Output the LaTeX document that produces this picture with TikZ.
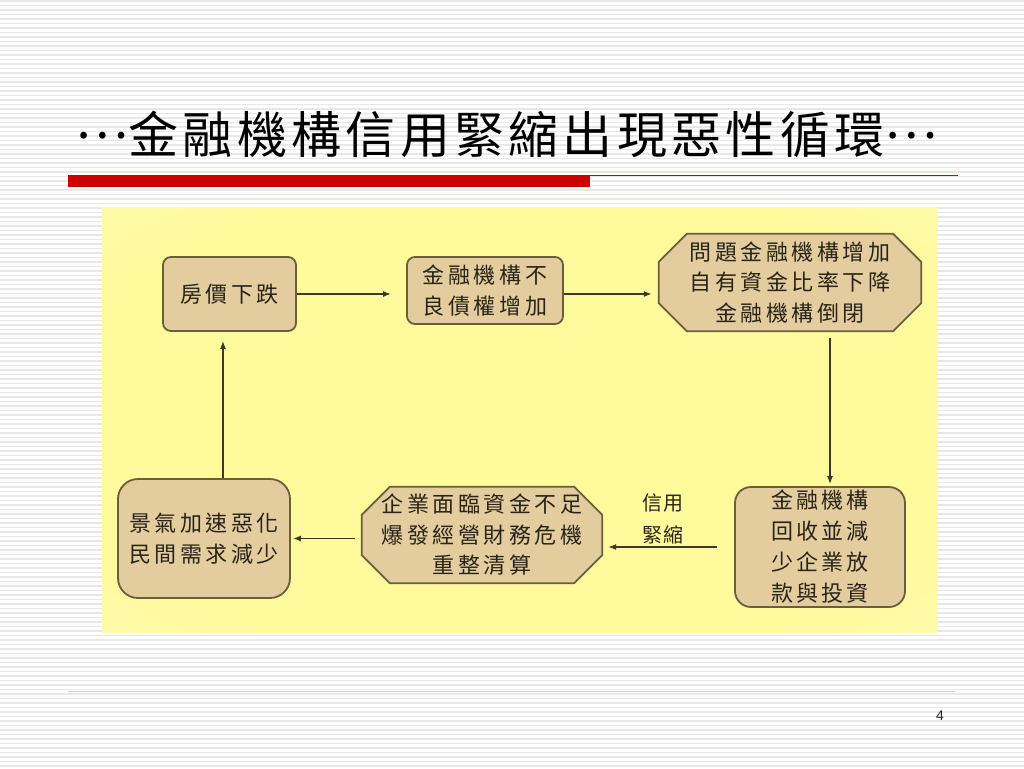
\documentclass[tikz,border=0pt]{standalone}
\usepackage{fontspec}
\setsansfont{Liberation Sans}
\newfontfamily\cjk[LetterSpace=16]{Noto Sans CJK TC}
\newfontfamily\cjkfour[LetterSpace=13.6]{Noto Sans CJK TC}
\newfontfamily\cjklbl[LetterSpace=7.5]{Noto Sans CJK TC}
\newfontfamily\cjktitle[LetterSpace=8.6]{Noto Sans CJK TC}
\newcommand\midellipsis{\raisebox{15pt}{…}}
\usetikzlibrary{arrows.meta}
\definecolor{stripe}{HTML}{E8E8E8}
\definecolor{redbar}{HTML}{CC0000}
\definecolor{panelY}{HTML}{FFFA9C}
\definecolor{panelP}{HTML}{FDFBE8}
\definecolor{wood}{HTML}{E3CC9E}
\definecolor{edge}{HTML}{6B5E3A}
\definecolor{arrc}{HTML}{3A3A2A}
\definecolor{txt}{HTML}{2A2418}
\definecolor{foot}{HTML}{D8C8C8}
\pgfdeclareradialshading{panelshade}{\pgfpoint{0bp}{0bp}}{color(0bp)=(panelY); color(28bp)=(panelY); color(72bp)=(panelP)}
\pgfdeclarelayer{bg}
\pgfdeclarelayer{shapes}
\pgfsetlayers{bg,shapes,main}
\tikzset{
  boxtext/.style={inner sep=0pt, align=center, text=txt, font=\cjk\fontsize{22}{30.5}\selectfont},
  rbox/.style={boxtext, draw=edge, fill=wood, line width=1.8pt},
  obox/.style={boxtext},
  octo/.style={draw=edge, fill=wood, line width=1.8pt},
  arr/.style={draw=arrc, line width=1.3pt, -{Latex[length=8pt,width=6pt]}},
}
\begin{document}
\begin{tikzpicture}[x=1pt,y=-1pt]
\begin{pgfonlayer}{bg}
\useasboundingbox (0,0) rectangle (1024,768);
\fill[white] (0,0) rectangle (1024,768);
\foreach \yy in {1,5.5,...,768} \draw[stripe, line width=1.3pt] (0,\yy) -- (1024,\yy);
% title bar
\fill[redbar] (68,175) rectangle (590,187);
\draw[redbar, line width=1pt] (590,175.5) -- (958,175.5);
% footer
\draw[foot, line width=1pt] (68,691) -- (955,691);
% panel
\shade[shading=panelshade] (102,207) rectangle (937,632);
\end{pgfonlayer}

% title
\node[font=\cjktitle\fontsize{50}{50}\selectfont, text=black, inner sep=0pt, anchor=base] (title) at (506.5,153) {\midellipsis 金融機構信用緊縮出現惡性循環\midellipsis};
\node[font=\sffamily\fontsize{14}{14}\selectfont, text=black!85, inner sep=0pt] (pg) at (940,716) {4};

% boxes
\node[rbox, rounded corners=8pt, minimum width=133pt, minimum height=74pt] (n1) at (229.5,294) {房價下跌};
\node[rbox, rounded corners=8pt, minimum width=156pt, minimum height=67pt] (n2) at (485,290.5) {金融機構不\\良債權增加};
\node[obox, minimum width=262pt, minimum height=97pt] (n3) at (790,282.5) {問題金融機構增加\\自有資金比率下降\\金融機構倒閉};
\node[rbox, rounded corners=16pt, minimum width=170pt, minimum height=120pt, font=\cjkfour\fontsize{22}{31}\selectfont] (n4) at (820,547) {金融機構\\回收並減\\少企業放\\款與投資};
\node[obox, minimum width=240pt, minimum height=96pt] (n5) at (482,535) {企業面臨資金不足\\爆發經營財務危機\\重整清算};
\node[rbox, rounded corners=20pt, minimum width=172pt, minimum height=119pt] (n6) at (204,538.5) {景氣加速惡化\\民間需求減少};
\node[inner sep=0pt, align=center, text=txt, font=\cjklbl\fontsize{20}{32}\selectfont] (lbl) at (663,519) {信用\\緊縮};

\begin{pgfonlayer}{shapes}
\foreach \n in {n3,n5} {
  \draw[octo] ([xshift=28pt]\n.north west) -- ([xshift=-28pt]\n.north east) -- ([yshift=-28pt]\n.north east) -- ([yshift=28pt]\n.south east) -- ([xshift=-28pt]\n.south east) -- ([xshift=28pt]\n.south west) -- ([yshift=28pt]\n.south west) -- ([yshift=-28pt]\n.north west) -- cycle;
}
\end{pgfonlayer}

% connectors
\draw[arr, shorten >=15pt] (n1.east) -- (n2.west |- n1.east);
\draw[arr, shorten >=7pt] (n2.east |- n1.east) -- (n3.west |- n1.east);
\draw[arr, shorten <=7pt, shorten >=2pt] ([xshift=10pt]n4.north |- n3.south) -- ([xshift=10pt]n4.north);
\draw[arr, shorten <=17pt, shorten >=6pt] (n4.west) -- (n5.east |- n4.west);
\draw[arr, shorten <=7pt, shorten >=2pt] (n5.west |- n6.east) -- (n6.east);
\draw[arr, shorten >=9pt] ([xshift=-6.5pt]n1.south |- n6.north) -- ([xshift=-6.5pt]n1.south);
\end{tikzpicture}
\end{document}
